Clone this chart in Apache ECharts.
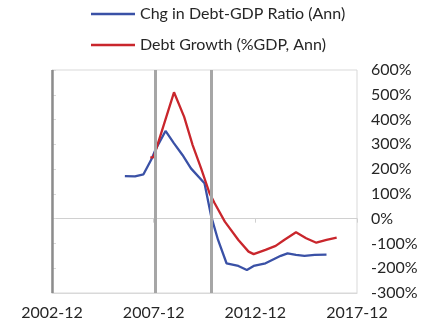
<!DOCTYPE html>
<html>
<head>
<meta charset="utf-8">
<script src="https://cdn.jsdelivr.net/npm/echarts@6/dist/echarts.min.js"></script>
<style>
html,body{margin:0;padding:0;background:#fff;}
#chart{width:445px;height:329px;}
</style>
</head>
<body>
<div id="chart"></div>
<script>
// Data (dates as YYYY-MM, values in %)
var seriesNames = ['Chg in Debt-GDP Ratio (Ann)', 'Debt Growth (%GDP, Ann)'];
var xTickLabels = ['2002-12', '2007-12', '2012-12', '2017-12'];
var yTickValues = [-300, -200, -100, 0, 100, 200, 300, 400, 500, 600];

var ratioDates = ['2006-07','2007-01','2007-06','2007-11','2008-01','2008-07','2008-12','2009-05','2009-10','2010-06','2010-10','2011-02','2011-07','2012-02','2012-07','2012-11','2013-06','2013-12','2014-03','2014-07','2014-12','2015-05','2015-11','2016-06'];
var ratioValues = [172,171,179,244,277,354,304,257,203,143,8,-86,-180,-191,-207,-191,-180,-160,-150,-140,-146,-150,-146,-145];

var growthDates = ['2007-10','2007-12','2008-12','2009-06','2009-11','2010-04','2010-09','2010-12','2011-06','2012-02','2012-08','2012-11','2013-06','2013-12','2014-05','2014-12','2015-06','2015-12','2016-06','2016-12'];
var growthValues = [246,248,510,411,297,203,102,62,-12,-86,-133,-143,-126,-110,-86,-55,-79,-97,-86,-77];

var eventDates = ['2002-12', '2008-01', '2010-10'];

// month offset from 2002-12
function mo(s) {
  var p = s.split('-');
  return (parseInt(p[0], 10) - 2002) * 12 + (parseInt(p[1], 10) - 12);
}
function pairs(d, v) { return d.map(function (x, i) { return [mo(x), v[i]]; }); }

var chart = echarts.init(document.getElementById('chart'), null, {renderer: 'canvas'});
var FONT = 'Lato';
var xCommon = {
  type: 'value', min: 0, max: 180, interval: 60
};
chart.setOption({
  animation: false,
  backgroundColor: '#ffffff',
  textStyle: {fontFamily: FONT},
  legend: {
    orient: 'vertical', left: 86, top: 0,
    icon: 'rect',
    itemWidth: 44, itemHeight: 2.5, itemGap: 13,
    textStyle: {fontFamily: FONT, fontSize: 16, color: '#262626', lineHeight: 18},
    data: seriesNames
  },
  grid: {left: 52, right: 88, top: 70, bottom: 36, show: true, borderColor: '#d9d9d9', borderWidth: 1},
  xAxis: [
    Object.assign({}, xCommon, {
      position: 'bottom',
      axisLine: {onZero: false, lineStyle: {color: '#d9d9d9'}},
      axisTick: {show: false},
      splitLine: {show: false},
      axisLabel: {
        margin: 12, fontFamily: FONT, fontSize: 16, color: '#262626',
        formatter: function (v) { return xTickLabels[Math.round(v / 60)]; }
      }
    }),
    Object.assign({}, xCommon, {
      position: 'top',
      axisLine: {onZero: true, lineStyle: {color: '#d0d0d0'}},
      axisTick: {show: true, inside: true, length: 4, lineStyle: {color: '#d0d0d0'}},
      splitLine: {show: false},
      axisLabel: {show: false}
    })
  ],
  yAxis: {
    type: 'value', position: 'right', min: -300, max: 600, interval: 100,
    axisLine: {show: true, lineStyle: {color: '#d9d9d9'}},
    axisTick: {show: true, length: 4, lineStyle: {color: '#d9d9d9'}},
    splitLine: {show: false},
    axisLabel: {
      margin: 14, fontFamily: FONT, fontSize: 16, color: '#262626',
      formatter: function (v) { return v + '%'; }
    }
  },
  series: [
    {
      name: seriesNames[0], type: 'line', symbol: 'none', showSymbol: false,
      data: pairs(ratioDates, ratioValues),
      lineStyle: {color: '#3a51a6', width: 2.3}, itemStyle: {color: '#3a51a6'},
      z: 3,
      markLine: {
        silent: true, symbol: 'none', label: {show: false},
        data: [
          {xAxis: mo(eventDates[0]), lineStyle: {color: '#8c8c8c', width: 2.5, type: 'solid'}},
          {xAxis: mo(eventDates[1]), lineStyle: {color: '#a6a6a6', width: 3, type: 'solid'}},
          {xAxis: mo(eventDates[2]), lineStyle: {color: '#a6a6a6', width: 3, type: 'solid'}}
        ]
      }
    },
    {
      name: seriesNames[1], type: 'line', symbol: 'none', showSymbol: false,
      data: pairs(growthDates, growthValues),
      lineStyle: {color: '#c9262c', width: 2.3}, itemStyle: {color: '#c9262c'},
      z: 4
    }
  ]
});
</script>
</body>
</html>
